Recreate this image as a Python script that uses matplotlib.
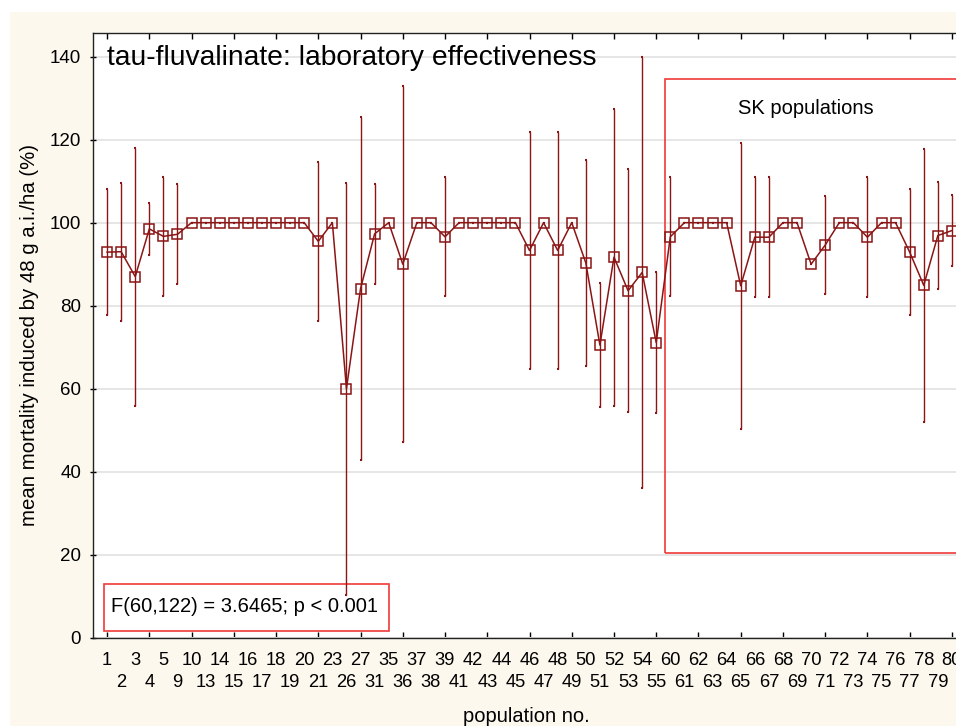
import matplotlib
matplotlib.use("Agg")
import matplotlib.pyplot as plt
from matplotlib.patches import Rectangle
from matplotlib.transforms import blended_transform_factory

plt.rcParams['font.family'] = ['Liberation Sans', 'DejaVu Sans']

populations = [1, 2, 3, 4, 5, 9, 10, 13, 14, 15, 16, 17, 18, 19, 20, 21, 23, 26, 27, 31,
               35, 36, 37, 38, 39, 41, 42, 43, 44, 45, 46, 47, 48, 49, 50, 51, 52, 53, 54, 55,
               60, 61, 62, 63, 64, 65, 66, 67, 68, 69, 70, 71, 72, 73, 74, 75, 76, 77, 78, 79, 80]

mean_mortality = [92.9, 93.0, 87.0, 98.5, 96.7, 97.2,
                  100, 100, 100, 100, 100, 100, 100, 100, 100,
                  95.5, 100, 60.0, 84.1, 97.3, 100, 90.0, 100, 100, 96.6,
                  100, 100, 100, 100, 100,
                  93.3, 100, 93.3, 100, 90.3, 70.5, 91.7, 83.6, 88.0, 71.1,
                  96.6, 100, 100, 100, 100, 84.8, 96.5, 96.5, 100, 100,
                  90.0, 94.6, 100, 100, 96.5, 100, 100, 92.9, 84.9, 96.9, 98.1]

ci_halfwidth = [15.2, 16.6, 31.1, 6.3, 14.4, 12.0,
                0, 0, 0, 0, 0, 0, 0, 0, 0,
                19.1, 0, 49.6, 41.4, 12.0, 0, 42.9, 0, 0, 14.3,
                0, 0, 0, 0, 0,
                28.6, 0, 28.6, 0, 24.8, 14.9, 35.8, 29.3, 52.0, 16.9,
                14.3, 0, 0, 0, 0, 34.5, 14.4, 14.4, 0, 0,
                0, 11.9, 0, 0, 14.4, 0, 0, 15.2, 32.9, 13.0, 8.6]

title_text = "tau-fluvalinate: laboratory effectiveness"
stat_text = "F(60,122) = 3.6465; p < 0.001"
sk_text = "SK populations"
y_label = "mean mortality induced by 48 g a.i./ha (%)"
x_label = "population no."

W, H = 956, 726
fig = plt.figure(figsize=(W / 100, H / 100), dpi=100)
fig.patch.set_facecolor('white')
fig.patches.append(Rectangle((10 / W, 0), 1, (H - 12) / H, transform=fig.transFigure,
                             facecolor='#FCF8EE', edgecolor='none', zorder=-10))

ax = fig.add_axes([93 / W, (H - 637.7) / H, 873 / W, 604.7 / H])
ax.set_facecolor('white')

x = list(range(len(populations)))
line_color = '#8B1515'
ax.errorbar(x, mean_mortality, yerr=ci_halfwidth, fmt='none', ecolor=line_color,
            elinewidth=1.0, capsize=1.0, capthick=1.5, zorder=3)
ax.plot(x, mean_mortality, color=line_color, lw=1.1, marker='s', markersize=6.8,
        markerfacecolor='none', markeredgecolor=line_color, markeredgewidth=1.1, zorder=4)

ax.set_xlim(-1, 61)
ax.set_ylim(0, 145.7)

# y axis
ax.set_yticks([0, 20, 40, 60, 80, 100, 120, 140])
ax.tick_params(axis='y', which='major', direction='inout', length=5, width=1,
               labelsize=13.5, pad=6, right=True, labelright=False)
ax.yaxis.grid(True, color='#E6E6E6', lw=1.4)
ax.set_axisbelow(True)

# x axis: tick marks every 3rd population, labels on two alternating rows
ax.set_xticks([])
ax.set_xticks(x[::3], minor=True)
ax.tick_params(axis='x', which='minor', direction='in', length=4, width=1,
               top=True, bottom=True, labelbottom=False)
trans = blended_transform_factory(ax.transData, ax.transAxes)
for i, p in enumerate(populations):
    yrow = -0.0369 if i % 2 == 0 else -0.0749
    ax.text(i, yrow, str(p), transform=trans, ha='center', va='center',
            fontsize=13.2, clip_on=False)

for s in ax.spines.values():
    s.set_linewidth(1.0)
    s.set_color('#222222')

ax.set_ylabel(y_label, fontsize=14.7)
ax.yaxis.label.set_va('center')
ax.yaxis.set_label_coords(-0.0722, 0.5)
ax.set_xlabel(x_label, fontsize=14.5)
ax.xaxis.label.set_va('center')
ax.xaxis.set_label_coords(0.496, -0.131)

ax.text(0, 139.7, title_text, fontsize=20.3, ha='left', va='center', zorder=6)

red = '#F03A3A'
ax.add_patch(Rectangle((39.6, 20.5), 30, 134.6 - 20.5, fill=False, edgecolor=red, lw=1.2, zorder=2))
ax.text(49.6, 127.6, sk_text, fontsize=14.5, ha='center', va='center', zorder=6)

ax.add_patch(Rectangle((-0.21, 1.6), 20.21, 12.9 - 1.6, facecolor='white', edgecolor=red, lw=1.2, zorder=2.5))
ax.text(9.77, 7.4, stat_text, fontsize=14.5, ha='center', va='center', zorder=6)

fig.savefig('out.png', dpi=100)
